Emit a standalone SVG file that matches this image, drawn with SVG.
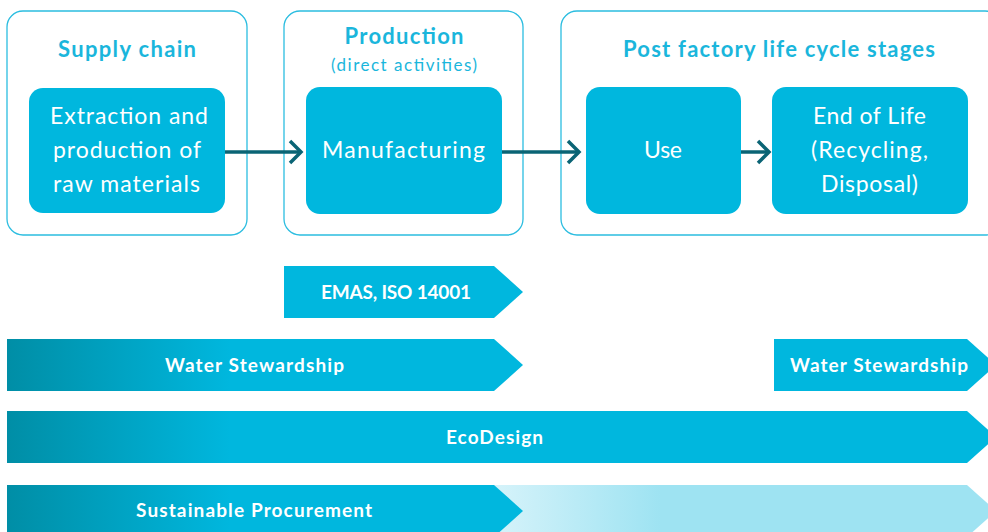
<svg xmlns="http://www.w3.org/2000/svg" width="988" height="532" viewBox="0 0 988 532">
<defs>
<style>
.outer{fill:#fff;stroke:#2bbde0;stroke-width:1.3}
.inner{fill:#00b7de}
.title{font-family:Lato,"Open Sans",sans-serif;font-weight:bold;fill:#1ab6dc;text-anchor:middle;font-size:22px}
.sub{font-family:Lato,"Open Sans",sans-serif;fill:#1ab6dc;text-anchor:middle;font-size:17px}
.lbl{font-family:Lato,"Open Sans",sans-serif;fill:#fff;text-anchor:middle;font-size:23px}
.band{font-family:Lato,"Open Sans",sans-serif;font-weight:bold;fill:#fff;text-anchor:middle;font-size:19px}
.conn{fill:none;stroke:#0a6475;stroke-width:3.5}
</style>
<linearGradient id="dark" gradientUnits="userSpaceOnUse" x1="7" y1="0" x2="230" y2="0">
<stop offset="0" stop-color="#008ea6"/>
<stop offset="1" stop-color="#00b7de"/>
</linearGradient>
<linearGradient id="light" gradientUnits="userSpaceOnUse" x1="494" y1="0" x2="660" y2="0">
<stop offset="0" stop-color="#d6f3fa"/>
<stop offset="1" stop-color="#9ee3f2"/>
</linearGradient>
</defs>
<rect width="988" height="532" fill="#fff"/>

<g id="supply-chain">
<rect class="outer" x="7" y="11" width="240" height="224" rx="16"/>
<text class="title" x="127" y="57" textLength="138" lengthAdjust="spacing">Supply chain</text>
</g>
<g id="production">
<rect class="outer" x="284" y="11" width="239" height="224" rx="16"/>
<text class="title" x="404" y="44" textLength="119" lengthAdjust="spacing">Production</text>
<text class="sub" x="404" y="71" textLength="146" lengthAdjust="spacing">(direct activities)</text>
</g>
<g id="post-factory">
<rect class="outer" x="561" y="11" width="440" height="224" rx="16"/>
<text class="title" x="779" y="57" textLength="312" lengthAdjust="spacing">Post factory life cycle stages</text>
</g>

<g id="extraction">
<rect class="inner" x="29" y="88" width="196" height="125" rx="14"/>
<text class="lbl" x="129" y="124" textLength="158" lengthAdjust="spacing">Extraction and</text>
<text class="lbl" x="127" y="158" textLength="148" lengthAdjust="spacing">production of</text>
<text class="lbl" x="126.5" y="192" textLength="147" lengthAdjust="spacing">raw materials</text>
</g>
<g id="manufacturing">
<rect class="inner" x="306" y="87" width="196" height="127" rx="14"/>
<text class="lbl" x="403.5" y="158" textLength="163" lengthAdjust="spacing">Manufacturing</text>
</g>
<g id="use">
<rect class="inner" x="586" y="87" width="155" height="127" rx="14"/>
<text class="lbl" x="663" y="158" textLength="38" lengthAdjust="spacing">Use</text>
</g>
<g id="end-of-life">
<rect class="inner" x="772" y="87" width="196" height="127" rx="14"/>
<text class="lbl" x="869.5" y="124" textLength="113" lengthAdjust="spacing">End of Life</text>
<text class="lbl" x="869.5" y="158" textLength="117" lengthAdjust="spacing">(Recycling,</text>
<text class="lbl" x="869.5" y="192" textLength="97" lengthAdjust="spacing">Disposal)</text>
</g>

<g id="connectors">
<line class="conn" x1="225" y1="152" x2="300" y2="152"/>
<polyline class="conn" points="290,141 301,152 290,163"/>
<line class="conn" x1="502" y1="152" x2="579" y2="152"/>
<polyline class="conn" points="568,141 579,152 568,163"/>
<line class="conn" x1="741" y1="152" x2="769" y2="152"/>
<polyline class="conn" points="758,141 769,152 758,163"/>
</g>

<g id="emas">
<polygon points="284,266 494,266 523,292 494,318 284,318" fill="#00b7de"/>
<text class="band" x="396" y="299" textLength="150" lengthAdjust="spacing">EMAS, ISO 14001</text>
</g>
<g id="water-stewardship-1">
<polygon points="7,339 494,339 523,365 494,391 7,391" fill="url(#dark)"/>
<text class="band" x="254.5" y="372" textLength="179" lengthAdjust="spacing">Water Stewardship</text>
</g>
<g id="water-stewardship-2">
<polygon points="774,339 967,339 996,365 967,391 774,391" fill="#00b7de"/>
<text class="band" x="879" y="372" textLength="178" lengthAdjust="spacing">Water Stewardship</text>
</g>
<g id="ecodesign">
<polygon points="7,411 967,411 996,437 967,463 7,463" fill="url(#dark)"/>
<text class="band" x="494.5" y="444" textLength="97" lengthAdjust="spacing">EcoDesign</text>
</g>
<g id="sustainable-procurement">
<polygon points="494,485 967,485 996,511 967,537 494,537" fill="url(#light)"/>
<polygon points="7,485 494,485 523,511 494,537 7,537" fill="url(#dark)"/>
<text class="band" x="254" y="517" textLength="236" lengthAdjust="spacing">Sustainable Procurement</text>
</g>
</svg>
